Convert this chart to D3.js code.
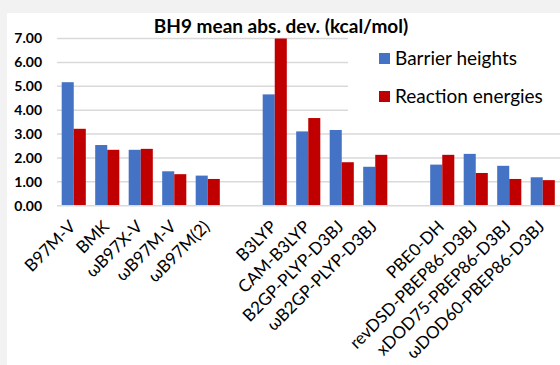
<!DOCTYPE html>
<meta charset="utf-8">
<script src="https://d3js.org/d3.v7.min.js"></script>
<style>
  body { margin: 0; }
  svg { font-family: "Lato", "Open Sans", sans-serif; }
</style>
<div id="chart"></div>
<script>
  // data (empty names are the gaps between groups)
  var methods = ["B97M-V", "BMK", "\u03c9B97X-V", "\u03c9B97M-V", "\u03c9B97M(2)", "",
    "B3LYP", "CAM-B3LYP", "B2GP-PLYP-D3BJ", "\u03c9B2GP-PLYP-D3BJ", "",
    "PBE0-DH", "revDSD-PBEP86-D3BJ", "xDOD75-PBEP86-D3BJ", "\u03c9DOD60-PBEP86-D3BJ"];
  var barrierHeights = [5.17, 2.54, 2.34, 1.44, 1.26, null,
    4.66, 3.11, 3.17, 1.63, null,
    1.72, 2.17, 1.67, 1.19];
  var reactionEnergies = [3.22, 2.34, 2.38, 1.32, 1.12, null,
    7.00, 3.67, 1.82, 2.13, null,
    2.13, 1.37, 1.12, 1.07];
  var seriesNames = ["Barrier heights", "Reaction energies"];
  var colors = ["#4472C4", "#C00000"];
  var yTicks = [0, 1, 2, 3, 4, 5, 6, 7];

  var W = 560, H = 365;
  var plotL = 57, plotR = 559.5, plotT = 38.5, plotB = 205.7;

  var svg = d3.select("#chart").append("svg")
    .attr("width", W).attr("height", H);

  // background + white chart area
  svg.append("rect").attr("width", W).attr("height", H).attr("fill", "#f2f2f2");
  svg.append("rect").attr("x", 7).attr("y", 13).attr("width", W - 7).attr("height", H - 13).attr("fill", "#fff");

  var x = d3.scaleBand()
    .domain(d3.range(methods.length))
    .range([plotL, plotR])
    .paddingInner(0.28)
    .paddingOuter(0.14);

  var xs = d3.scaleBand()
    .domain([0, 1])
    .range([0, x.bandwidth()]);

  var y = d3.scaleLinear()
    .domain([0, 7])
    .range([plotB, plotT]);

  // gridlines
  svg.append("g")
    .selectAll("line")
    .data(yTicks.slice(1))
    .enter()
    .append("line")
    .attr("x1", plotL).attr("x2", W)
    .attr("y1", function (d) { return y(d); })
    .attr("y2", function (d) { return y(d); })
    .attr("stroke", "#d9d9d9")
    .attr("stroke-width", 1.5);

  // legend box (white, hides gridlines behind it)
  var legend = svg.append("g");
  legend.append("rect")
    .attr("x", 348).attr("y", 37).attr("width", W - 348).attr("height", 94)
    .attr("fill", "#fff");

  // bars
  var series = [barrierHeights, reactionEnergies];
  series.forEach(function (vals, s) {
    svg.append("g")
      .selectAll("rect")
      .data(vals.map(function (v, i) { return { i: i, v: v }; }).filter(function (d) { return d.v != null; }))
      .enter()
      .append("rect")
      .attr("x", function (d) { return x(d.i) + xs(s); })
      .attr("width", xs.bandwidth())
      .attr("y", function (d) { return y(d.v); })
      .attr("height", function (d) { return y(0) - y(d.v); })
      .attr("fill", colors[s]);
  });

  // x axis line
  svg.append("line")
    .attr("x1", plotL).attr("x2", W)
    .attr("y1", plotB).attr("y2", plotB)
    .attr("stroke", "#d9d9d9").attr("stroke-width", 1.5);

  // y axis labels
  var yAxis = svg.append("g")
    .attr("transform", "translate(" + (plotL - 10) + ",0)")
    .call(d3.axisLeft(y).tickValues(yTicks).tickFormat(d3.format(".2f")).tickSize(0).tickPadding(5));
  yAxis.select(".domain").remove();
  yAxis.selectAll("text")
    .attr("font-family", "Lato, sans-serif")
    .attr("font-size", 14)
    .attr("font-weight", "bold")
    .attr("fill", "#000");

  // x labels, rotated
  svg.append("g")
    .selectAll("text")
    .data(methods)
    .enter()
    .append("text")
    .attr("transform", function (d, i) {
      return "translate(" + (x(i) + x.bandwidth() / 2 + 3) + "," + (plotB + 22) + ") rotate(-45)";
    })
    .attr("text-anchor", "end")
    .attr("font-size", 17)
    .attr("fill", "#000")
    .text(function (d) { return d; });

  // title
  svg.append("text")
    .attr("x", 281).attr("y", 33)
    .attr("text-anchor", "middle")
    .attr("font-size", 19)
    .attr("font-weight", "bold")
    .text("BH9 mean abs. dev. (kcal/mol)");

  // legend entries
  seriesNames.forEach(function (name, s) {
    var ly = 58 + s * 38;
    legend.append("rect")
      .attr("x", 379).attr("y", ly - 5).attr("width", 11).attr("height", 11)
      .attr("fill", colors[s]);
    legend.append("text")
      .attr("x", 395).attr("y", ly + 7)
      .attr("font-size", 19)
      .text(name);
  });
</script>
